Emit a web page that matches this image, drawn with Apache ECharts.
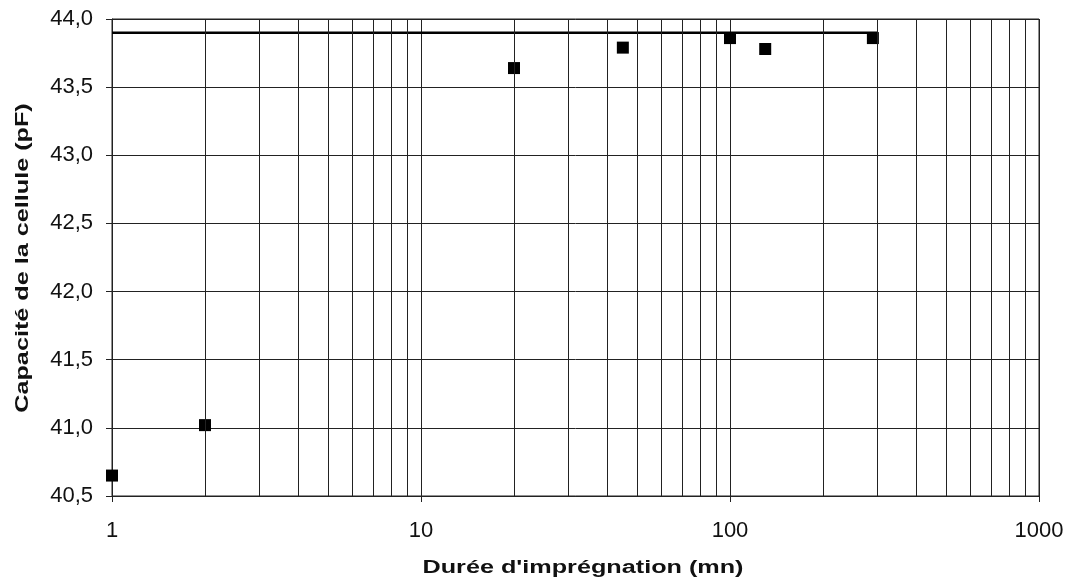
<!DOCTYPE html>
<html>
<head>
<meta charset="utf-8">
<script src="https://cdn.jsdelivr.net/npm/echarts@6/dist/echarts.min.js"></script>
<style>
  html, body { margin: 0; padding: 0; background: #fff; }
  #chart { width: 1070px; height: 588px; }
</style>
</head>
<body>
<div id="chart"></div>
<script>
// Cell capacitance versus impregnation time (log time axis)
const durations = [1, 2, 20, 45, 100, 130, 290];            // mn
const capacities = [40.65, 41.02, 43.64, 43.79, 43.86, 43.78, 43.86]; // pF

// Plateau line
const plateauX = [1, 300];
const plateauY = [43.9, 43.9];

// Axis ranges and labels
const xMin = 1, xMax = 1000;
const yMin = 40.5, yMax = 44.0, yStep = 0.5;
const xTitle = "Durée d'imprégnation (mn)";
const yTitle = "Capacité de la cellule (pF)";

// Minor vertical grid lines at 2..9 of each decade
const minorX = [];
for (let d = xMin; d < xMax; d *= 10) {
  for (let k = 2; k <= 9; k++) minorX.push(k * d);
}

const GRID = '#222';
const chart = echarts.init(document.getElementById('chart'), null, { renderer: 'canvas' });

chart.setOption({
  animation: false,
  backgroundColor: '#fff',
  grid: { left: 112, right: 31, top: 19, bottom: 92 },
  xAxis: {
    type: 'log',
    logBase: 10,
    min: xMin,
    max: xMax,
    interval: 1,
    axisLine: { show: true, lineStyle: { color: GRID, width: 1 } },
    axisTick: { show: true, length: 6, lineStyle: { color: GRID } },
    axisLabel: {
      margin: 24,
      fontSize: 22,
      fontFamily: 'Liberation Sans, Arial, sans-serif',
      color: '#111',
      formatter: v => String(Math.round(v))
    },
    splitLine: { show: true, lineStyle: { color: GRID, width: 1 } }
  },
  yAxis: {
    type: 'value',
    min: yMin,
    max: yMax,
    interval: yStep,
    axisLine: { show: true, lineStyle: { color: GRID, width: 1 } },
    axisTick: { show: true, length: 6, lineStyle: { color: GRID } },
    axisLabel: {
      margin: 19,
      fontSize: 22,
      fontFamily: 'Liberation Sans, Arial, sans-serif',
      color: '#111',
      formatter: v => v.toFixed(1).replace('.', ',')
    },
    splitLine: { show: true, lineStyle: { color: GRID, width: 1 } }
  },
  graphic: [
    // right and top frame edges
    {
      type: 'rect', silent: true,
      shape: { x: 112, y: 19, width: 927, height: 477 },
      style: { fill: 'none', stroke: GRID, lineWidth: 1 }
    },
    {
      type: 'text', x: 583, y: 568, scaleX: 1.40,
      style: {
        text: xTitle, fill: '#111',
        font: 'bold 18px "Liberation Sans", Arial, sans-serif',
        align: 'center', verticalAlign: 'middle',
        textAlign: 'center', textVerticalAlign: 'middle'
      }
    },
    {
      type: 'text', x: 23, y: 258, rotation: Math.PI / 2, scaleX: 1.40,
      style: {
        text: yTitle, fill: '#111',
        font: 'bold 18px "Liberation Sans", Arial, sans-serif',
        align: 'center', verticalAlign: 'middle',
        textAlign: 'center', textVerticalAlign: 'middle'
      }
    }
  ],
  series: [
    {
      type: 'line',
      data: plateauX.map((x, i) => [x, plateauY[i]]),
      showSymbol: false,
      lineStyle: { color: '#000', width: 2.5 },
      z: 3,
      markLine: {
        silent: true,
        symbol: ['none', 'none'],
        label: { show: false },
        lineStyle: { color: GRID, width: 1, type: 'solid' },
        emphasis: { disabled: true },
        data: minorX.map(v => ({ xAxis: v }))
      }
    },
    {
      type: 'scatter',
      data: durations.map((x, i) => [x, capacities[i]]),
      symbol: 'rect',
      symbolSize: 12,
      itemStyle: { color: '#000', opacity: 1 },
      z: 4
    }
  ]
});
</script>
</body>
</html>
